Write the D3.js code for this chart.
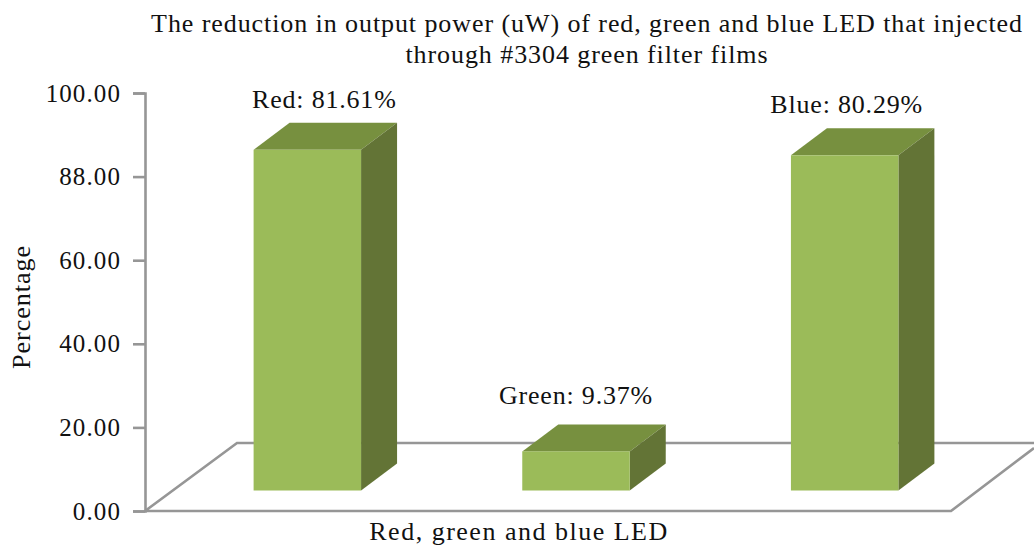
<!DOCTYPE html>
<html>
<head>
<meta charset="utf-8">
<script src="https://cdnjs.cloudflare.com/ajax/libs/d3/7.8.5/d3.min.js"></script>
<style>
  html, body { margin: 0; padding: 0; background: #fff; }
  text { font-family: "Liberation Serif", serif; fill: #111; }
</style>
</head>
<body>
<div id="graph"></div>
<script>
var categories = ["Red", "Green", "Blue"];
var values = [81.61, 9.37, 80.29];
var barLabels = ["Red: 81.61%", "Green: 9.37%", "Blue: 80.29%"];
var tickValues = [0, 20, 40, 60, 80, 100];
var tickLabels = ["0.00", "20.00", "40.00", "60.00", "88.00", "100.00"];

var width = 1034, height = 547;
var svg = d3.select("#graph").append("svg")
  .attr("width", width)
  .attr("height", height)
  .style("display", "block");

// axis scale sits on the front edge of the floor, bars stand further back
var yAxisScale = d3.scaleLinear().domain([0, 100]).range([511, 93]);
var yBar = d3.scaleLinear().domain([0, 100]).range([490.5, 73]);
var x = d3.scaleBand().domain(categories).range([173, 979]).paddingInner(0.6).paddingOuter(0.3);

var depthX = 36, depthY = 27;
// the labels were placed by hand in the original
var labelShiftX = [17, 0, 2];
var labelShiftY = [-42, -47, -42];

// floor
var floor = d3.path();
floor.moveTo(145, 511);
floor.lineTo(237, 443);
floor.lineTo(1034, 443);
floor.moveTo(1034, 448);
floor.lineTo(951, 511);
floor.lineTo(145, 511);
svg.append("path")
  .attr("d", floor.toString())
  .attr("fill", "none")
  .attr("stroke", "#969696")
  .attr("stroke-width", 2.6);

// y axis
var axis = d3.axisLeft(yAxisScale)
  .tickValues(tickValues)
  .tickSize(12)
  .tickSizeOuter(12)
  .tickPadding(12)
  .tickFormat(function(d, i) { return tickLabels[i]; });
var gAxis = svg.append("g")
  .attr("transform", "translate(145,0)")
  .call(axis);
gAxis.selectAll("path, line").attr("stroke", "#969696").attr("stroke-width", 2.6);
gAxis.selectAll("text")
  .style("font-family", '"Liberation Serif", serif')
  .style("font-size", "25px")
  .style("letter-spacing", "1.1px")
  .attr("fill", "#111");

// bars
var bars = svg.selectAll(".bar")
  .data(values)
  .enter().append("g")
  .attr("class", "bar");

bars.append("path")
  .attr("fill", "#77903f")
  .attr("d", function(d, i) {
    var x0 = x(categories[i]), w = x.bandwidth(), t = yBar(d);
    return "M" + x0 + "," + t + "L" + (x0 + depthX) + "," + (t - depthY) +
      "L" + (x0 + w + depthX) + "," + (t - depthY) + "L" + (x0 + w) + "," + t + "Z";
  });
bars.append("path")
  .attr("fill", "#637436")
  .attr("d", function(d, i) {
    var x1 = x(categories[i]) + x.bandwidth(), t = yBar(d), b = yBar(0);
    return "M" + x1 + "," + t + "L" + (x1 + depthX) + "," + (t - depthY) +
      "L" + (x1 + depthX) + "," + (b - depthY) + "L" + x1 + "," + b + "Z";
  });
bars.append("rect")
  .attr("fill", "#9bbb59")
  .attr("x", function(d, i) { return x(categories[i]); })
  .attr("y", function(d) { return yBar(d); })
  .attr("width", x.bandwidth())
  .attr("height", function(d) { return yBar(0) - yBar(d); });

// data labels
bars.append("text")
  .attr("x", function(d, i) { return x(categories[i]) + x.bandwidth() / 2 + labelShiftX[i]; })
  .attr("y", function(d, i) { return yBar(d) + labelShiftY[i]; })
  .attr("text-anchor", "middle")
  .style("font-size", "26px")
  .style("letter-spacing", "0.8px")
  .text(function(d, i) { return barLabels[i]; });

// title
svg.append("text")
  .attr("x", 587).attr("y", 32)
  .attr("text-anchor", "middle")
  .style("font-size", "26px")
  .style("letter-spacing", "0.92px")
  .text("The reduction in output power (uW) of red, green and blue LED that injected");
svg.append("text")
  .attr("x", 587).attr("y", 63)
  .attr("text-anchor", "middle")
  .style("font-size", "26px")
  .style("letter-spacing", "0.92px")
  .text("through #3304 green filter films");

// axis titles
svg.append("text")
  .attr("x", 519).attr("y", 540)
  .attr("text-anchor", "middle")
  .style("font-size", "26px")
  .style("letter-spacing", "1.5px")
  .text("Red, green and blue LED");
svg.append("text")
  .attr("transform", "translate(30,307) rotate(-90)")
  .attr("text-anchor", "middle")
  .style("font-size", "26px")
  .style("letter-spacing", "1px")
  .text("Percentage");
</script>
</body>
</html>
